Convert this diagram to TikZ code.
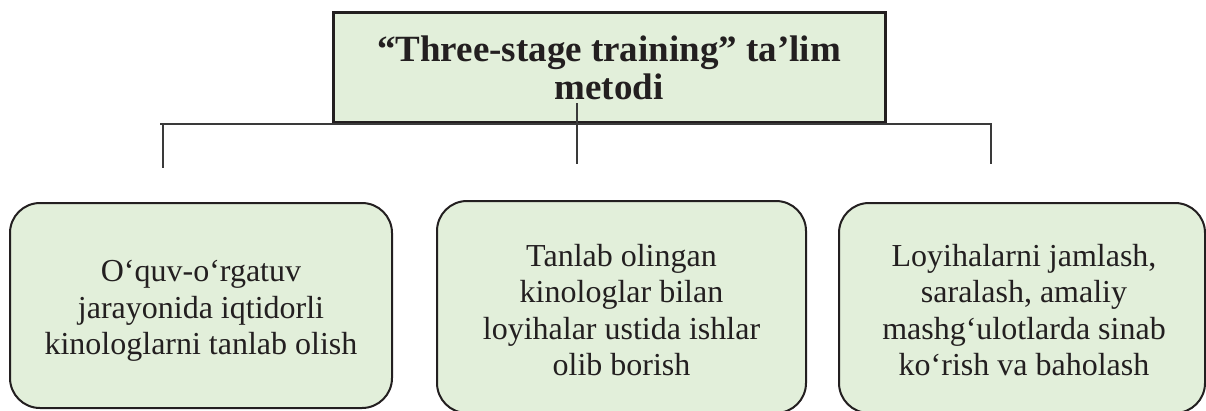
\documentclass[tikz,border=0pt]{standalone}
\usepackage{fontspec}
\setmainfont{Liberation Serif}
\definecolor{boxfill}{HTML}{E2EFDA}
\definecolor{ink}{HTML}{231F20}
\definecolor{wire}{HTML}{3A3A3A}
\tikzset{
  titlebox/.style={draw=ink, fill=boxfill, line width=3pt, inner sep=0pt,
    minimum width=552pt, minimum height=110pt, align=center, text=ink,
    font=\fontsize{37}{38}\selectfont\bfseries},
  stagebox/.style={draw=ink, fill=boxfill, line width=2pt, rounded corners=30pt,
    inner sep=0pt},
  stagetext/.style={align=center, text=ink, inner sep=0pt,
    font=\fontsize{32}{36.6}\selectfont},
  conn/.style={draw=wire, line width=1.4pt}
}
\begin{document}
\begin{tikzpicture}[x=1pt,y=-1pt]
\useasboundingbox (0,0) rectangle (1206,410);
% title
\node[titlebox] (top) at (609,67.5) {“Three-stage training” ta’lim\\metodi};
% stage boxes
\node[stagebox, minimum width=382pt, minimum height=205pt] (b1) at (201,305.5) {};
\node[stagebox, minimum width=369pt, minimum height=212pt] (b2) at (621.5,307) {};
\node[stagebox, minimum width=366pt, minimum height=210pt] (b3) at (1022,308) {};
\node[stagetext] (t1) at (201,311) {O‘quv-o‘rgatuv\\jarayonida iqtidorli\\kinologlarni tanlab olish};
\node[stagetext] (t2) at (621.5,310) {Tanlab olingan\\kinologlar bilan\\loyihalar ustida ishlar\\olib borish};
\node[stagetext] (t3) at (1024,310) {Loyihalarni jamlash,\\saralash, amaliy\\mashg‘ulotlarda sinab\\ko‘rish va baholash};
% connectors
\coordinate (hl) at (160,124);
\coordinate (hr) at (992,124);
\coordinate (j1) at (163,124);
\coordinate (j2) at (577,103);
\coordinate (j3) at (991,124);
\coordinate (d1) at (163,168);
\coordinate (d2) at (577,164);
\coordinate (d3) at (991,164);
\draw[conn] (hl) -- (hr);
\draw[conn] (j1) -- (d1);
\draw[conn] (j2) -- (d2);
\draw[conn] (j3) -- (d3);
\end{tikzpicture}
\end{document}
